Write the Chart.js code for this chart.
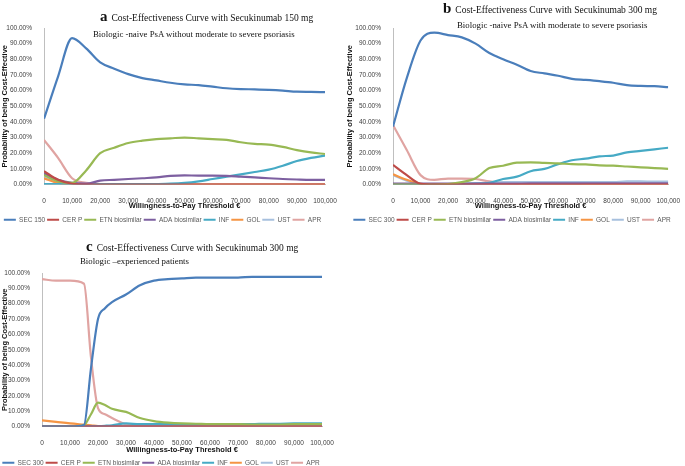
<!DOCTYPE html>
<html>
<head>
<meta charset="utf-8">
<script src="https://cdn.jsdelivr.net/npm/chart.js@4.4.1/dist/chart.umd.min.js"></script>
<style>
  body { margin: 0; background: #fff; width: 685px; height: 466px; position: relative; overflow: hidden; }
  canvas { position: absolute; }
  .t { position: absolute; font-family: "Liberation Serif", "DejaVu Serif", serif; color: #111; white-space: nowrap; line-height: 1; }
  .t b { font-size: 15px; margin-right: 4px; }
  .ttl { font-size: 9.5px; }
  .sub { font-size: 8.8px; }
</style>
</head>
<body>
<canvas id="chartA" width="345" height="233" style="left:0; top:0;"></canvas>
<canvas id="chartB" width="340" height="233" style="left:345px; top:0;"></canvas>
<canvas id="chartC" width="345" height="246" style="left:0; top:230px;"></canvas>

<div class="t ttl" style="left:100px; top:9px;"><b>a</b>Cost-Effectiveness Curve with Secukinumab 150 mg</div>
<div class="t sub" style="left:93px; top:30px;">Biologic -naive PsA without moderate to severe psoriasis</div>
<div class="t ttl" style="left:443px; top:1px;"><b>b</b>Cost-Effectiveness Curve with Secukinumab 300 mg</div>
<div class="t sub" style="left:457px; top:21px;">Biologic -naive PsA with moderate to severe psoriasis</div>
<div class="t ttl" style="left:86px; top:239px;"><b>c</b>Cost-Effectiveness Curve with Secukinumab 300 mg</div>
<div class="t sub" style="left:80px; top:257px;">Biologic –experienced patients</div>

<script>
// willingness-to-pay thresholds (EUR)
const wtp = [0, 5000, 10000, 15000, 20000, 25000, 30000, 35000, 40000, 45000, 50000,
  55000, 60000, 65000, 70000, 75000, 80000, 85000, 90000, 95000, 100000];
const wtpC = [0, 5000, 10000, 15000, 17500, 20000, 22500, 25000, 30000, 35000, 40000, 45000, 50000,
  55000, 60000, 65000, 70000, 75000, 80000, 85000, 90000, 95000, 100000];

const treatments = ['CER P', 'ETN biosimilar', 'ADA biosimilar', 'INF', 'GOL', 'UST', 'APR'];
const colors = ['#4A7EBB', '#BE4B48', '#98B954', '#7D5FA0', '#46AAC5', '#F59544', '#A7C0DE', '#E0A4A2'];

// panel a : SEC 150, biologic-naive without psoriasis (%)
const secA = [42, 69, 93.5, 87, 78, 74, 70.5, 68, 66.5, 65, 64, 63.5, 62.5, 61.5, 61, 60.8, 60.5, 60, 59.3, 59.2, 59];
const cerA = [8.5, 3, 0.5, 0, 0, 0, 0, 0, 0, 0, 0, 0, 0, 0, 0, 0, 0, 0, 0, 0, 0];
const etnA = [6, 2, 1, 9, 20, 23.5, 26.5, 28, 29, 29.5, 30, 29.5, 29, 28.5, 27, 26, 25.5, 24, 22, 20.5, 19.5];
const adaA = [7, 3, 1, 0.5, 2.5, 3, 3.5, 4, 4.5, 5.5, 5.8, 5.7, 5.7, 5.5, 5, 4.5, 4, 3.5, 3.2, 3, 3];
const infA = [0.3, 0.2, 0.2, 0.2, 0.2, 0.2, 0.2, 0.2, 0.3, 0.5, 1, 2, 3.5, 5, 6.5, 8, 9.5, 12, 15, 17, 18.5];
const golA = [4, 1, 0, 0, 0, 0, 0, 0, 0, 0, 0, 0, 0, 0, 0, 0, 0, 0, 0, 0, 0];
const ustA = [5, 1.5, 0.3, 0, 0, 0, 0, 0, 0, 0, 0, 0, 0, 0, 0, 0, 0, 0, 0, 0, 0];
const aprA = [28.5, 17, 4, 1, 0.3, 0.2, 0.2, 0.2, 0.2, 0.2, 0.2, 0.2, 0.2, 0.2, 0.2, 0.2, 0.2, 0.2, 0.2, 0.2, 0.2];

// panel b : SEC 300, biologic-naive with psoriasis (%)
const secB = [37, 68, 92, 97, 95.5, 94, 90, 84, 80, 76.5, 72.5, 71, 69.5, 67.5, 66.8, 66, 65, 63.5, 63, 62.8, 62.2];
const cerB = [12.5, 6, 0.5, 0, 0, 0, 0, 0, 0, 0, 0, 0, 0, 0, 0, 0, 0, 0, 0, 0, 0];
const etnB = [0, 0, 0, 0, 0.3, 1.5, 4, 10.5, 12, 14, 14.2, 13.8, 13.5, 13, 12.8, 12.2, 12, 11.5, 11, 10.5, 10];
const adaB = [0.5, 0.5, 0.5, 0.5, 0.5, 0.5, 0.5, 0.5, 0.5, 0.6, 0.7, 0.7, 0.7, 0.7, 0.8, 0.8, 0.8, 0.8, 0.8, 0.8, 0.8];
const infB = [0.3, 0.3, 0.3, 0.3, 0.3, 0.3, 0.5, 1, 3.5, 5, 8.5, 10, 13, 15.5, 16.5, 18, 18.5, 20.5, 21.5, 22.5, 23.5];
const golB = [6.5, 3, 0.5, 0, 0, 0, 0, 0, 0, 0, 0, 0, 0, 0, 0, 0, 0, 0, 0, 0, 0];
const ustB = [6, 2.5, 0.3, 0.3, 0.3, 0.5, 0.8, 1, 1.5, 1.5, 1.5, 1.5, 1.5, 1.5, 1.5, 1.5, 1.5, 2, 2, 1.8, 1.8];
const aprB = [38, 22, 6, 3, 3.8, 3.8, 3.5, 2, 1, 0.5, 0.3, 0.2, 0.2, 0.2, 0.2, 0.2, 0.2, 0.2, 0.2, 0.2, 0.2];

// panel c : SEC 300, biologic-experienced (%)
const secC = [0, 0, 0, 1, 38, 70, 77, 81, 86, 92, 95, 96, 96.5, 97, 97, 97, 97, 97.5, 97.5, 97.5, 97.5, 97.5, 97.5];
const cerC = [0, 0, 0, 0, 0, 0, 0, 0, 0, 0, 0, 0, 0, 0, 0, 0, 0, 0, 0, 0, 0, 0, 0];
const etnC = [0, 0, 0, 1, 8, 15.5, 14, 11.5, 9.5, 5.5, 3.5, 2.5, 2, 1.8, 1.5, 1.5, 1.5, 1.3, 1.3, 1.3, 1.5, 1.5, 1.5];
const adaC = [0, 0, 0, 0, 0, 0, 0, 0, 0, 0, 0, 0, 0, 0, 0, 0, 0, 0, 0, 0, 0, 0, 0];
const infC = [0, 0, 0, 0, 0.2, 0.3, 0.5, 0.8, 2, 1.5, 1.5, 1.5, 1.5, 1.5, 1.5, 1.5, 1.5, 1.5, 1.8, 1.8, 2, 2, 2];
const golC = [4, 3, 2, 1.2, 0.8, 0.3, 0.2, 0.1, 0, 0, 0, 0, 0, 0, 0, 0, 0, 0, 0, 0, 0, 0, 0];
const ustC = [0.3, 0.3, 0.3, 0.3, 0.3, 0.3, 0.3, 0.3, 0.3, 0.3, 0.3, 0.3, 0.3, 0.3, 0.3, 0.3, 0.3, 0.3, 0.3, 0.3, 0.3, 0.3, 0.3];
const aprC = [96, 95, 95, 93, 45, 12, 8, 5.5, 1.5, 0.5, 0.2, 0.2, 0.2, 0.2, 0.2, 0.2, 0.2, 0.2, 0.2, 0.2, 0.2, 0.2, 0.2];

const yTicks = [0, 10, 20, 30, 40, 50, 60, 70, 80, 90, 100];

const tickFont = { family: 'Liberation Sans', size: 6.5 };
const titleFont = { family: 'Liberation Sans', size: 7.5, weight: 'bold' };

function makeChart(id, secLabel, xs, series, box) {
  const labels = [secLabel].concat(treatments);
  const datasets = series.map((vals, i) => ({
    label: labels[i],
    data: vals.map((v, j) => ({ x: xs[j], y: v })),
    borderColor: colors[i],
    backgroundColor: colors[i],
    borderWidth: 2.2,
    pointRadius: 0,
    tension: 0.4,
    cubicInterpolationMode: 'monotone'
  }));

  return new Chart(document.getElementById(id), {
    type: 'line',
    data: { datasets: datasets },
    options: {
      responsive: false,
      animation: false,
      layout: { padding: box.pad },
      scales: {
        x: {
          type: 'linear',
          min: 0,
          max: 100000,
          grid: { display: false },
          border: { color: '#bfbfbf' },
          ticks: {
            stepSize: 10000,
            autoSkip: false,
            color: '#404040',
            font: tickFont,
            maxRotation: 0,
            padding: 5,
            callback: v => v.toLocaleString('en-US')
          },
          title: { display: true, text: 'Willingness-to-Pay Threshold €', color: '#111', font: titleFont, padding: { top: 3, bottom: box.tb } },
          afterFit: s => { s.height = box.xh; }
        },
        y: {
          min: 0,
          max: 100,
          grid: { display: false },
          border: { color: '#bfbfbf' },
          afterBuildTicks: s => { s.ticks = yTicks.map(v => ({ value: v })); },
          ticks: {
            autoSkip: false,
            color: '#404040',
            font: tickFont,
            padding: 4,
            callback: v => v.toFixed(2) + '%'
          },
          title: { display: true, text: 'Probability of being Cost-Effective', color: '#111', font: titleFont, padding: 0 },
          afterFit: s => { s.width = box.yw; }
        }
      },
      plugins: {
        legend: {
          position: 'bottom',
          labels: {
            usePointStyle: true,
            pointStyle: 'line',
            pointStyleWidth: 12,
            boxHeight: 6,
            padding: 2,
            color: '#595959',
            font: { family: 'Liberation Sans', size: 6.5 }
          }
        },
        tooltip: { enabled: false }
      }
    }
  });
}

makeChart('chartA', 'SEC 150', wtp, [secA, cerA, etnA, adaA, infA, golA, ustA, aprA],
  { pad: { top: 28, right: 20, left: 0, bottom: 0 }, yw: 44, xh: 30, tb: 4 });
makeChart('chartB', 'SEC 300', wtp, [secB, cerB, etnB, adaB, infB, golB, ustB, aprB],
  { pad: { top: 28, right: 6, left: 0, bottom: 0 }, yw: 48, xh: 30, tb: 4 });
makeChart('chartC', 'SEC 300', wtpC, [secC, cerC, etnC, adaC, infC, golC, ustC, aprC],
  { pad: { top: 43, right: 23, left: 0, bottom: 0 }, yw: 42, xh: 31, tb: 3 });
</script>
</body>
</html>
